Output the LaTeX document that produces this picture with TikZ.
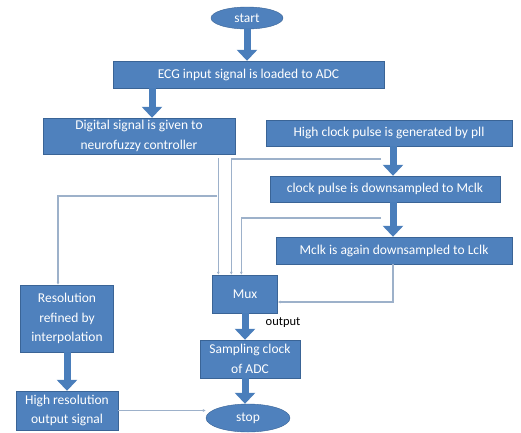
\documentclass[tikz,border=0pt]{standalone}
\usepackage{fontspec}
\setmainfont{Carlito}
\usetikzlibrary{arrows,arrows.meta}
\usetikzlibrary{shapes.geometric}
\usetikzlibrary{calc}
\usetikzlibrary{positioning}

\definecolor{boxblue}{HTML}{4F81BD}
\definecolor{boxedge}{HTML}{3A6496}
\definecolor{flowblue}{HTML}{4A7EBB}
\definecolor{linkgrey}{HTML}{9DB1CA}

\begin{document}
\begin{tikzpicture}[
    x=1pt, y=-1pt,
    box/.style={draw=boxedge, fill=boxblue, text=white, align=center, inner sep=1pt, font=\fontsize{13.5}{19.5}\selectfont},
    term/.style={ellipse, draw=boxedge, fill=boxblue, text=white, inner sep=0pt, font=\fontsize{13.5}{16}\selectfont},
    flow/.style={draw=flowblue, line width=7pt, -{Triangle[width=20pt,length=11pt]}},
    link/.style={draw=linkgrey, line width=1.2pt, -{Latex[length=3pt,width=3pt]}}
  ]
    \useasboundingbox (0,0) rectangle (521,432);

    \node[term, minimum width=72pt, minimum height=22pt] (start) at (247,18) {start};
    \node[box, minimum width=271pt, minimum height=27pt] (ecg) at (248.5,74.5) {ECG input signal is loaded to ADC};
    \node[box, minimum width=192pt, minimum height=36pt] (digital) at (139,136) {Digital signal is given to\\ neurofuzzy controller};
    \node[box, minimum width=246pt, minimum height=26pt] (pll) at (389,133) {High clock pulse is generated by pll};
    \node[box, minimum width=230pt, minimum height=26pt] (down) at (385,189) {clock pulse is downsampled to Mclk};
    \node[box, minimum width=236pt, minimum height=27pt] (mclk) at (394,250.5) {Mclk is again downsampled to Lclk};
    \node[box, minimum width=65pt, minimum height=38pt] (mux) at (245,294) {Mux};
    \node[box, minimum width=93pt, minimum height=67pt] (res) at (67,318.5) {Resolution\\ refined by\\ interpolation};
    \node[box, minimum width=102pt, minimum height=39pt] (hires) at (67,410.5) {High resolution\\ output signal};
    \node[box, minimum width=100pt, minimum height=38pt] (sampling) at (250,359) {Sampling clock\\ of ADC};
    \node[term, minimum width=84pt, minimum height=28pt] (stop) at (248,418) {stop};
    \node[font=\fontsize{12.5}{14}\selectfont] (outlabel) at (283,323) {output};

    % branch points of the clock lines
    \coordinate (tap1) at (381,159);
    \coordinate (tap2) at (381,218);
    \coordinate (tap3) at (217,196);

    % main flow
    \draw[flow] (start) -- (start |- ecg.north);
    \draw[flow] ([xshift=13pt]digital.north |- ecg.south) -- ([xshift=13pt]digital.north);
    \draw[flow] ([xshift=4pt]pll.south) -- ([xshift=4pt]pll.south |- down.north);
    \draw[flow] ([xshift=-1pt]mclk.north |- down.south) -- ([xshift=-1pt]mclk.north);
    \draw[flow] (mux.south) -- (mux.south |- sampling.north);
    \draw[flow] (sampling.south -| mux) -- (stop.north -| mux);
    \draw[flow] (res) -- (hires);

    % clock and signal lines into the mux
    \draw[link] ([xshift=6pt,yshift=-4pt]mux.north west |- digital.south) -- ([xshift=6pt]mux.north west);
    \draw[link] (tap1) -| ([xshift=19pt]mux.north west);
    \draw[link] (tap2) -| ([xshift=29pt]mux.north west);
    \draw[link] ([xshift=-1pt]mclk.south) |- ([yshift=-8pt]mux.east);
    \draw[link] (tap3) -| ([xshift=-9pt]res.north);
    \draw[link] (hires) -- (hires -| stop.west);
  \end{tikzpicture}
\end{document}
